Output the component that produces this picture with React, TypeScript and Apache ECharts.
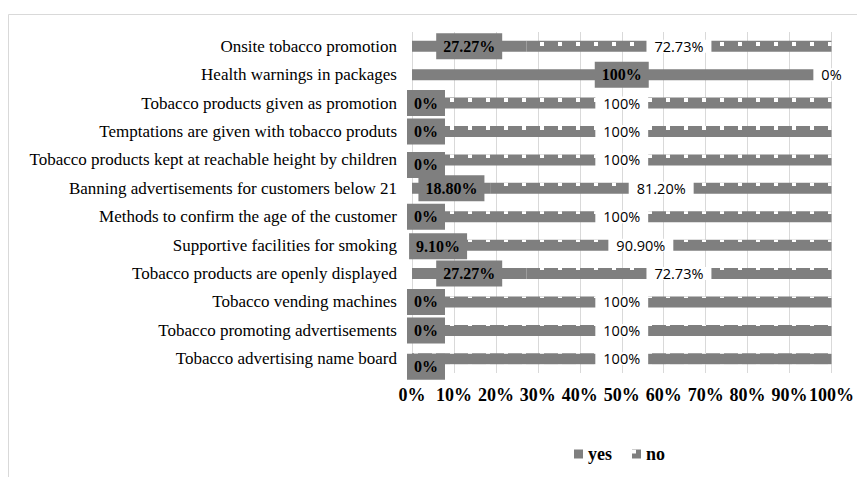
import React, { useEffect, useRef } from "react";
import * as echarts from "echarts";

const categories = [
  "Onsite tobacco promotion",
  "Health warnings in packages",
  "Tobacco products given as promotion",
  "Temptations are given with tobacco produts",
  "Tobacco products kept at reachable height by children",
  "Banning advertisements for customers below 21",
  "Methods to confirm the age of the customer",
  "Supportive facilities for smoking",
  "Tobacco products are openly displayed",
  "Tobacco vending machines",
  "Tobacco promoting advertisements",
  "Tobacco advertising name board",
];
const yesValues = [27.27, 100, 0, 0, 0, 18.8, 0, 9.1, 27.27, 0, 0, 0];
const noValues = [72.73, 0, 100, 100, 100, 81.2, 100, 90.9, 72.73, 100, 100, 100];
const yesLabels = ["27.27%", "100%", "0%", "0%", "0%", "18.80%", "0%", "9.10%", "27.27%", "0%", "0%", "0%"];
const noLabels = ["72.73%", "0%", "100%", "100%", "100%", "81.20%", "100%", "90.90%", "72.73%", "100%", "100%", "100%"];
const seriesNames = ["yes", "no"];

const GRAY = "#7f7f7f";
const SERIF = "Liberation Serif";

export default function App() {
  const ref = useRef<HTMLDivElement>(null);
  useEffect(() => {
    if (!ref.current) return;
    const chart = echarts.init(ref.current, undefined, { renderer: "svg" });
    const yesShift = (i: number) => {
      // manual label nudges as in the reference
      if (i === 4) return [14, 5];
      if (i === 11) return [14, 8];
      if (i === 7) return [7, 1];
      if (yesValues[i] === 0) return [14, 0];
      return [0, 0];
    };
    chart.setOption({
      animation: false,
      textStyle: { fontFamily: SERIF },
      graphic: [
        {
          type: "rect",
          shape: { x: 8.5, y: 14.5, width: 900, height: 520 },
          style: { fill: "none", stroke: "#d9d9d9", lineWidth: 1 },
          silent: true,
        },
      ],
      grid: { left: 412, right: 22, top: 32, height: 341 },
      legend: {
        data: seriesNames,
        left: 569,
        top: 440,
        itemWidth: 9,
        itemHeight: 9,
        itemGap: 20,
        icon: "rect",
        textStyle: { fontFamily: SERIF, fontWeight: "bold", fontSize: 18, color: "#000" },
      },
      xAxis: {
        type: "value",
        min: 0,
        max: 100,
        interval: 10,
        axisLine: { show: false },
        axisTick: { show: false },
        splitLine: { lineStyle: { color: "#d9d9d9", width: 1 } },
        axisLabel: {
          formatter: "{value}%",
          fontFamily: SERIF,
          fontWeight: "bold",
          fontSize: 18,
          color: "#000",
          margin: 13,
        },
      },
      yAxis: {
        type: "category",
        inverse: true,
        data: categories,
        axisLine: { show: false },
        axisTick: { show: false },
        axisLabel: { fontFamily: SERIF, fontSize: 17, color: "#000", margin: 15 },
      },
      series: [
        {
          name: seriesNames[0],
          type: "bar",
          stack: "total",
          barWidth: 11,
          itemStyle: { color: GRAY },
          data: yesValues,
          labelLayout: (p: any) => {
            const s = yesShift(p.dataIndex);
            return { dx: s[0], dy: s[1] };
          },
          label: {
            show: true,
            position: "inside",
            formatter: (p: any) => "{y|" + yesLabels[p.dataIndex] + "}",
            backgroundColor: GRAY,
            padding: [5, 7],
            rich: {
              y: {
                fontFamily: SERIF,
                fontWeight: "bold",
                fontSize: 16,
                lineHeight: 16,
                color: "#000",
              },
            },
          },
        },
        {
          name: seriesNames[1],
          type: "bar",
          stack: "total",
          barWidth: 11,
          itemStyle: {
            color: GRAY,
            decal: {
              symbol: "rect",
              symbolSize: 1,
              color: "#ffffff",
              dashArrayX: [4, 14],
              dashArrayY: [4, 10],
              rotation: 0,
            },
          },
          data: noValues,
          label: {
            show: true,
            position: "inside",
            formatter: (p: any) => "{n|" + noLabels[p.dataIndex] + "}",
            backgroundColor: "#ffffff",
            padding: [0, 8],
            rich: {
              n: {
                fontFamily: "Open Sans",
                fontSize: 14.5,
                lineHeight: 13,
                color: "#000",
              },
            },
          },
        },
      ],
    });
    return () => chart.dispose();
  }, []);
  return (
    <div
      ref={ref}
      style={{ position: "fixed", left: 0, top: 0, width: 857, height: 477, background: "#fff" }}
    />
  );
}
